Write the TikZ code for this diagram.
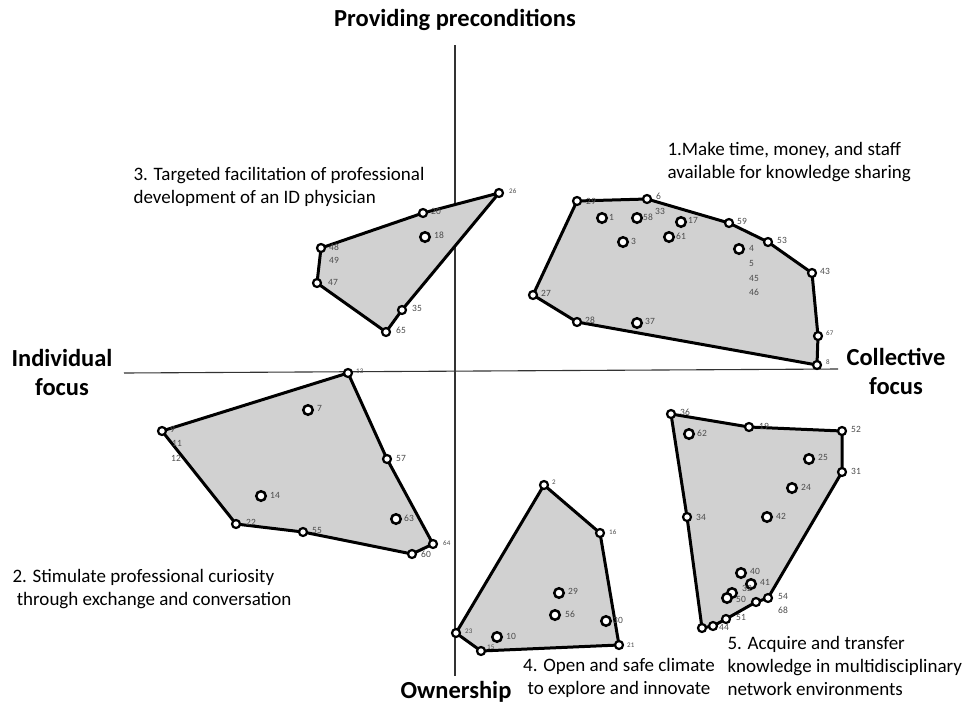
\documentclass[tikz,border=0pt]{standalone}
\usepackage{fontspec}
\setmainfont{Carlito}
\begin{document}
\begin{tikzpicture}[x=1pt,y=-1pt,
  axis/.style={draw=black!80, line width=1.1pt},
  hull/.style={fill=black!18, draw=black, line width=3pt, line join=round},
  dot/.style={circle, draw=black, fill=white, line width=2.2pt, minimum size=8pt, inner sep=0pt},
  bigdot/.style={dot, minimum size=9.5pt, line width=2.5pt},
  num/.style={anchor=west, inner sep=0pt, font=\fontsize{9.5}{10}\selectfont, text=black!70},
  smallnum/.style={num, font=\fontsize{7}{8}\selectfont},
  axlab/.style={font=\fontsize{24.5}{29}\selectfont\bfseries, align=center},
  desc/.style={font=\fontsize{19}{23}\selectfont, align=left}
]
\useasboundingbox (0,0) rectangle (970,710);
% axes
\coordinate (vt) at (455,45);
\coordinate (vb) at (455,676);
\coordinate (hl) at (124,373);
\coordinate (hr) at (838,369);
\draw[axis] (vt) -- (vb);
\draw[axis] (hl) -- (hr);

% ---------- cluster 1 ----------
\coordinate (a29) at (577,201);
\coordinate (a6) at (647,199);
\coordinate (a59) at (729,223);
\coordinate (a53) at (768,242);
\coordinate (a43) at (812,273);
\coordinate (a67) at (818,336);
\coordinate (a8) at (817,365);
\coordinate (a28) at (577,322);
\coordinate (a27) at (533,295);
\coordinate (a1) at (602,218);
\coordinate (a58) at (637,218);
\coordinate (a17) at (681,222);
\coordinate (a3) at (623,242);
\coordinate (a61) at (669,237);
\coordinate (a4) at (739,249);
\coordinate (a37) at (637,323);
\path[hull] (a29) -- (a6) -- (a59) -- (a53) -- (a43) -- (a67) -- (a8) -- (a28) -- (a27) -- cycle;

% ---------- cluster 3 ----------
\coordinate (b26) at (499,193);
\coordinate (b20) at (423,213);
\coordinate (b48) at (321,248);
\coordinate (b47) at (317,283);
\coordinate (b65) at (386,332);
\coordinate (b35) at (402,310);
\coordinate (b18) at (425,237);
\path[hull] (b26) -- (b20) -- (b48) -- (b47) -- (b65) -- (b35) -- cycle;

% ---------- cluster 2 ----------
\coordinate (c13) at (348,373);
\coordinate (c9) at (162,431);
\coordinate (c22) at (236,524);
\coordinate (c55) at (303,532);
\coordinate (c60) at (412,554);
\coordinate (c64) at (433,544);
\coordinate (c57) at (387,459);
\coordinate (c7) at (308,410);
\coordinate (c14) at (261,496);
\coordinate (c63) at (396,519);
\path[hull] (c13) -- (c9) -- (c22) -- (c55) -- (c60) -- (c64) -- (c57) -- cycle;

% ---------- cluster 4 ----------
\coordinate (d2) at (544,485);
\coordinate (d16) at (600,533);
\coordinate (d21) at (619,645);
\coordinate (d15) at (481,651);
\coordinate (d23) at (456,633);
\coordinate (d29) at (559,593);
\coordinate (d56) at (555,615);
\coordinate (d30) at (606,621);
\coordinate (d10) at (497,637);
\path[hull] (d2) -- (d16) -- (d21) -- (d15) -- (d23) -- cycle;

% ---------- cluster 5 ----------
\coordinate (e36) at (671,414);
\coordinate (e19) at (749,427);
\coordinate (e52) at (842,431);
\coordinate (e31) at (842,472);
\coordinate (e54) at (768,598);
\coordinate (e66) at (756,602);
\coordinate (e51) at (726,619);
\coordinate (e44) at (713,626);
\coordinate (e39) at (702,628);
\coordinate (e34) at (687,517);
\coordinate (e62) at (689,434);
\coordinate (e25) at (809,459);
\coordinate (e24) at (792,488);
\coordinate (e42) at (767,517);
\coordinate (e40) at (741,573);
\coordinate (e41) at (751,584);
\coordinate (e32) at (732,593);
\coordinate (e50) at (727,598);
\path[hull] (e36) -- (e19) -- (e52) -- (e31) -- (e54) -- (e66) -- (e51) -- (e44) -- (e39) -- (e34) -- cycle;

% markers on hull vertices / edges
\foreach \n in {a29,a6,a59,a53,a43,a67,a8,a28,a27,
  b26,b20,b48,b47,b65,b35,
  c13,c9,c22,c55,c60,c64,c57,
  d2,d16,d21,d15,d23,
  e36,e19,e52,e31,e54,e66,e51,e44,e39,e34}
  \node[dot] (m\n) at (\n) {};
% interior markers
\foreach \n in {a1,a58,a17,a3,a61,a4,a37,b18,c7,c14,c63,d29,d56,d30,d10,
  e62,e25,e24,e42,e40,e41,e32,e50}
  \node[bigdot] (m\n) at (\n) {};

% number labels, cluster 1
\node[num] (l29a) at (586,201) {29};
\node[num] (l6) at (656,196) {6};
\node[num] (l33) at (655,211) {33};
\node[num] (l58) at (643,217) {58};
\node[num] (l1) at (609,217) {1};
\node[num] (l17) at (688,220) {17};
\node[num] (l3) at (631,241) {3};
\node[num] (l61) at (676,236) {61};
\node[num] (l59) at (737,221) {59};
\node[num] (l53) at (777,240) {53};
\node[num] (l4) at (749,248) {4};
\node[num] (l5) at (749,263) {5};
\node[num] (l45) at (749,278) {45};
\node[num] (l46) at (749,292) {46};
\node[num] (l43) at (820,271) {43};
\node[smallnum] (l67) at (826,333) {67};
\node[smallnum] (l8) at (826,362) {8};
\node[num] (l27) at (541,293) {27};
\node[num] (l28) at (585,320) {28};
\node[num] (l37) at (645,321) {37};
% cluster 3
\node[smallnum] (l26) at (509,191) {26};
\node[num] (l20) at (431,211) {20};
\node[num] (l18) at (434,235) {18};
\node[num] (l48) at (329,247) {48};
\node[num] (l49) at (329,260) {49};
\node[num] (l47) at (328,282) {47};
\node[num] (l35) at (412,308) {35};
\node[num] (l65) at (396,330) {65};
% cluster 2
\node[smallnum] (l13) at (356,371) {13};
\node[num] (l9) at (170,429) {9};
\node[num] (l11) at (172,443) {11};
\node[num] (l12) at (171,458) {12};
\node[num] (l7) at (317,408) {7};
\node[num] (l57) at (396,458) {57};
\node[num] (l14) at (270,495) {14};
\node[num] (l22) at (246,522) {22};
\node[num] (l55) at (312,530) {55};
\node[num] (l63) at (404,518) {63};
\node[smallnum] (l64) at (443,543) {64};
\node[num] (l60) at (421,554) {60};
% cluster 4
\node[smallnum] (l2) at (552,482) {2};
\node[smallnum] (l16) at (609,532) {16};
\node[num] (l29b) at (568,591) {29};
\node[num] (l56) at (565,614) {56};
\node[num] (l30) at (613,620) {30};
\node[smallnum] (l23) at (465,631) {23};
\node[num] (l10) at (506,636) {10};
\node[smallnum] (l15) at (487,647) {15};
\node[smallnum] (l21) at (627,645) {21};
% cluster 5
\node[num] (l36) at (680,412) {36};
\node[num] (l19) at (759,426) {19};
\node[num] (l52) at (851,429) {52};
\node[num] (l62) at (697,433) {62};
\node[num] (l25) at (818,457) {25};
\node[num] (l31) at (851,471) {31};
\node[num] (l24) at (801,487) {24};
\node[num] (l34) at (696,517) {34};
\node[num] (l42) at (776,516) {42};
\node[num] (l40) at (750,571) {40};
\node[num] (l41) at (760,582) {41};
\node[num] (l32) at (742,588) {32};
\node[num] (l50) at (736,599) {50};
\node[num] (l54) at (778,596) {54};
\node[num] (l68) at (778,610) {68};
\node[num] (l51) at (736,617) {51};
\node[num] (l44) at (719,627) {44};

% axis labels
\node[axlab] (top) at (455,20) {Providing preconditions};
\node[axlab] (ind) at (62,372) {Individual\\focus};
\node[axlab] (col) at (896,371) {Collective\\focus};
\node[axlab] (own) at (456,692) {Ownership};

% cluster descriptions
\node[desc, anchor=north west] (t1) at (664,139) {1.Make time, money, and staff\\available for knowledge sharing};
\node[desc, anchor=north east] (t3) at (428,164) {3. Targeted facilitation of professional\\development of an ID physician};
\node[desc, anchor=north west] (t2) at (9,566) {2. Stimulate professional curiosity\\\ through exchange and conversation};
\node[desc, anchor=north, align=center] (t4) at (619,655) {4. Open and safe climate\\to explore and innovate};
\node[desc, anchor=north west] (t5) at (724,633) {5. Acquire and transfer\\knowledge in multidisciplinary\\network environments};
\end{tikzpicture}
\end{document}
